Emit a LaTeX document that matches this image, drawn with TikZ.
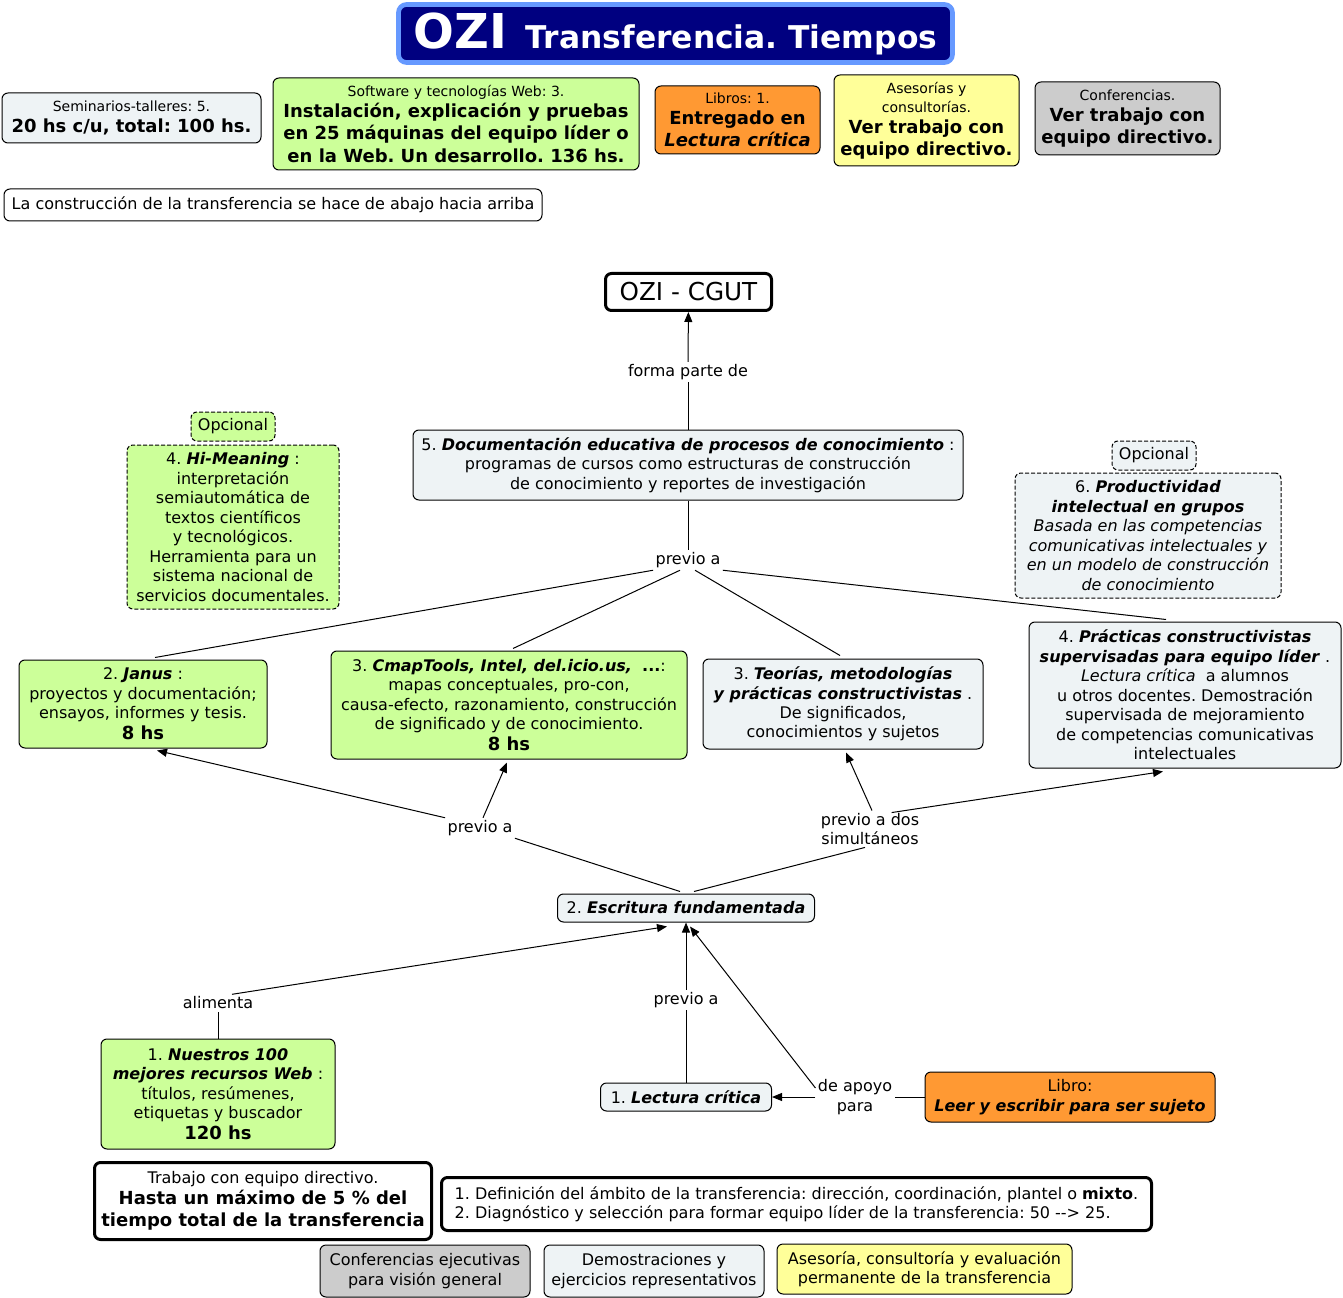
\documentclass[tikz,border=0pt]{standalone}
\usepackage{fontspec}
\setmainfont{DejaVu Sans}[ItalicFont={DejaVu Sans Oblique},BoldFont={DejaVu Sans Bold},BoldItalicFont={DejaVu Sans Bold Oblique}]
\usetikzlibrary{arrows.meta,calc}
\frenchspacing

\definecolor{cgreen}{RGB}{204,255,153}
\definecolor{cpale}{RGB}{238,243,245}
\definecolor{corange}{RGB}{255,153,51}
\definecolor{cyellow}{RGB}{255,255,153}
\definecolor{cgray}{RGB}{204,204,204}
\definecolor{cnavy}{RGB}{0,0,128}
\definecolor{cframe}{RGB}{102,153,255}

\newcommand{\ftmain}{\fontsize{12}{14.6}\selectfont}
\newcommand{\ftsmall}{\fontsize{10.5}{12.8}\selectfont}
\newcommand{\ftbig}{\fontsize{13.5}{16.5}\selectfont\bfseries}
\newcommand{\bfit}[1]{\textbf{\textit{#1}}}

\tikzset{every picture/.style={line width=0.75pt}}
\tikzset{
  wh/.style 2 args={minimum width=#1*0.75pt, minimum height=#2*0.75pt},
  concept/.style={draw, rounded corners=4.5pt, align=center, inner sep=1pt, font=\ftmain},
  optional/.style={concept, dash pattern=on 3pt off 1.5pt},
  heavy/.style={concept, line width=2.25pt},
  phrase/.style={align=center, inner sep=1.5pt, font=\ftmain},
  tip/.style={-{Triangle[length=7.5pt,width=6pt]}},
}

\begin{document}
\begin{tikzpicture}[x=0.75pt,y=0.75pt,yscale=-1,xscale=1]
	\useasboundingbox (0,0) rectangle (1343,1298);
	
	%Title
	\node [draw=cframe, line width=3.5pt, fill=cnavy, rounded corners=6pt, text=white, wh={554}{58}] (title) at (675.5,33.5)
		{{\fontsize{36}{40}\selectfont\bfseries OZI}\hspace{14pt}{\fontsize{23.5}{28}\selectfont\bfseries Transferencia. Tiempos}};
	
	%Time boxes, top row
	\node [concept, fill=cpale, wh={259}{50}] (semin) at (131.5,118) {{\ftsmall Seminarios-talleres: 5.}\\[1pt]{\ftbig 20 hs c/u, total: 100 hs.}};
	\node [concept, fill=cgreen, wh={366}{92}] (softw) at (456,124) {{\ftsmall Software y tecnologías Web: 3.}\\[1pt]{\ftbig Instalación, explicación y pruebas}\\[2pt]{\ftbig en 25 máquinas del equipo líder o}\\[2pt]{\ftbig en la Web. Un desarrollo. 136 hs.}};
	\node [concept, fill=corange, wh={165}{68}] (libros) at (737.5,120) {{\ftsmall Libros: 1.}\\[1pt]{\ftbig Entregado en}\\[2pt]{\ftbig\itshape Lectura crítica}};
	\node [concept, fill=cyellow, wh={185}{91}] (asesor) at (926.5,120.5) {{\ftsmall Asesorías y}\\{\ftsmall consultorías.}\\[1pt]{\ftbig Ver trabajo con}\\[2pt]{\ftbig equipo directivo.}};
	\node [concept, fill=cgray, wh={185}{73}] (confer) at (1127.5,118.5) {{\ftsmall Conferencias.}\\[1pt]{\ftbig Ver trabajo con}\\[2pt]{\ftbig equipo directivo.}};
	\node [concept, fill=white, wh={538}{32}] (constr) at (273,205) {La construcción de la transferencia se hace de abajo hacia arriba};
	
	%Concepts
	\node [heavy, fill=white, wh={166}{37}, font=\fontsize{18.5}{22}\selectfont] (ozi) at (688.5,292) {OZI - CGUT};
	\node [concept, fill=cpale, wh={550}{70}] (docum) at (688,465) {5. \bfit{Documentación educativa de procesos de conocimiento} :\\programas de cursos como estructuras de construcción\\de conocimiento y reportes de investigación};
	\node [optional, fill=cgreen, wh={84}{29}] (opcA) at (233,426.5) {Opcional};
	\node [optional, fill=cgreen, wh={212}{164}] (himean) at (233,527) {4. \bfit{Hi-Meaning} :\\interpretación\\semiautomática de\\textos científicos\\y tecnológicos.\\Herramienta para un\\sistema nacional de\\servicios documentales.};
	\node [optional, fill=cpale, wh={84}{29}] (opcB) at (1154,455.5) {Opcional};
	\node [optional, fill=cpale, wh={266}{125}] (produc) at (1148,535.5) {6. \bfit{Productividad}\\\bfit{intelectual en grupos}\\\textit{Basada en las competencias}\\\textit{comunicativas intelectuales y}\\\textit{en un modelo de construcción}\\\textit{de conocimiento}};
	\node [concept, fill=cgreen, wh={248}{88}] (janus) at (143,704) {2. \bfit{Janus} :\\proyectos y documentación;\\ensayos, informes y tesis.\\[1pt]{\ftbig 8 hs}};
	\node [concept, fill=cgreen, wh={356}{108}] (cmap) at (509,705) {3. \bfit{CmapTools, Intel, del.icio.us,}\ \ \textbf{...}:\\mapas conceptuales, pro-con,\\causa-efecto, razonamiento, construcción\\de significado y de conocimiento.\\[1pt]{\ftbig 8 hs}};
	\node [concept, fill=cpale, wh={280}{90}] (teorias) at (843,704) {3. \bfit{Teorías, metodologías}\\\bfit{y prácticas constructivistas} .\\De significados,\\conocimientos y sujetos};
	\node [concept, fill=cpale, wh={312}{146}] (practic) at (1185,695) {4. \bfit{Prácticas constructivistas}\\\bfit{supervisadas para equipo líder} .\\\textit{Lectura crítica}\ \ a alumnos\\u otros docentes. Demostración\\supervisada de mejoramiento\\de competencias comunicativas\\intelectuales};
	\node [concept, fill=cpale, wh={257}{28}] (escrit) at (686,908) {2. \bfit{Escritura fundamentada}};
	\node [concept, fill=cgreen, wh={234}{110}] (nuestros) at (218,1094) {1. \bfit{Nuestros 100}\\\bfit{mejores recursos Web} :\\títulos, resúmenes,\\etiquetas y buscador\\[1pt]{\ftbig 120 hs}};
	\node [concept, fill=cpale, wh={171}{28}] (lectura) at (686,1097) {1. \bfit{Lectura crítica}};
	\node [concept, fill=corange, wh={290}{50}] (libro) at (1070,1097) {Libro:\\\bfit{Leer y escribir para ser sujeto}};
	
	%Linking phrases
	\node [phrase] (forma) at (688,372) {forma parte de};
	\node [phrase] (prevA) at (688,560) {previo a};
	\node [phrase] (prevB) at (480,828) {previo a};
	\node [phrase] (prevC) at (870,829) {previo a dos\\simultáneos};
	\node [phrase] (alim) at (218,1003) {alimenta};
	\node [phrase] (prevD) at (686,1000) {previo a};
	\node [phrase] (apoyo) at (855,1097) {de apoyo\\para};
	
	%Connectors
	\draw (docum) -- (forma);
	\draw [tip] (forma) -- (ozi);
	\draw (docum) -- (prevA);
	\draw (prevA.south west) -- ($(janus.north)+(12,-2)$);
	\draw ($(prevA.south)+(-8,0)$) -- ($(cmap.north)+(4,-2)$);
	\draw ($(prevA.south)+(7,0)$) -- ($(teorias.north)+(-3,-3)$);
	\draw (prevA.south east) -- ($(practic.north)+(-19,-2)$);
	
	\draw ($(escrit.north)+(-6,-2)$) -- (prevB.south east);
	\draw [tip] (prevB.north west) -- ($(janus.south)+(14,2)$);
	\draw [tip] ($(prevB.north)+(3,0)$) -- ($(cmap.south)+(-2,3)$);
	
	\draw ($(escrit.north)+(8,-2)$) -- ($(prevC.south)+(-5,0)$);
	\draw [tip] ($(prevC.north)+(2,0)$) -- ($(teorias.south)+(3,3)$);
	\draw [tip] ($(prevC.north east)+(-30,2)$) -- ($(practic.south)+(-22,3)$);
	
	\draw (nuestros) -- (alim);
	\draw [tip] ($(alim.north)+(14,0)$) -- ($(escrit.south)+(-19,4)$);
	\draw (lectura) -- (prevD);
	\draw [tip] (prevD) -- (escrit);
	\draw (libro) -- (apoyo);
	\draw [tip] (apoyo) -- (lectura);
	\draw [tip] ($(apoyo.west)+(0,-9)$) -- ($(escrit.south)+(4,4)$);
	
	%Bottom boxes
	\node [heavy, fill=white, wh={337}{77}] (trabajo) at (263,1201) {Trabajo con equipo directivo.\\[1pt]{\ftbig Hasta un máximo de 5 \% del}\\[2pt]{\ftbig tiempo total de la transferencia}};
	\node [heavy, fill=white, wh={710}{53}, align=left] (defin) at (796.5,1204) {1. Definición del ámbito de la transferencia: dirección, coordinación, plantel o \textbf{mixto}.\\2. Diagnóstico y selección para formar equipo líder de la transferencia: 50 -{}-> 25.};
	\node [concept, fill=cgray, wh={210}{52}] (confej) at (425,1271) {Conferencias ejecutivas\\para visión general};
	\node [concept, fill=cpale, wh={220}{52}] (demos) at (654,1271) {Demostraciones y\\ejercicios representativos};
	\node [concept, fill=cyellow, wh={295}{50}] (asesoria) at (924.5,1269) {Asesoría, consultoría y evaluación\\permanente de la transferencia};
	
\end{tikzpicture}
\end{document}
